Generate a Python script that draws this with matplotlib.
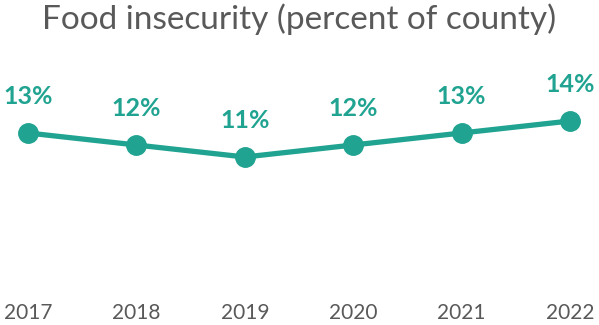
import matplotlib.pyplot as plt

# Food insecurity share by year
years = ["2017", "2018", "2019", "2020", "2021", "2022"]
pct = [13, 12, 11, 12, 13, 14]

teal = "#20A391"
gray = "#595959"
plt.rcParams['font.family'] = ['Lato', 'DejaVu Sans']

fig = plt.figure(figsize=(5.99, 3.25), dpi=100)
ax = fig.add_axes([28 / 599, (325 - 289) / 325, (570 - 28) / 599, 229 / 325])

x = list(range(len(years)))
ax.plot(x, pct, color=teal, linewidth=3.8, marker="o", markersize=14,
        solid_capstyle="round", clip_on=False)

for xi, v in zip(x, pct):
    ax.annotate(f"{v}%", (xi, v), xytext=(0, 26), textcoords="offset points",
                ha="center", va="center", color=teal, fontsize=18, fontweight="bold",
                annotation_clip=False)

ax.set_xlim(0, len(years) - 1)
ax.set_ylim(0, 229 / 12)
ax.set_xticks(x)
ax.set_xticklabels(years, color=gray, fontsize=15)
ax.tick_params(axis="x", length=0, pad=10)
ax.set_yticks([])
for s in ax.spines.values():
    s.set_visible(False)

fig.suptitle("Food insecurity (percent of county)", color=gray, fontsize=24, y=0.99)

plt.savefig("out.png", dpi=100)
